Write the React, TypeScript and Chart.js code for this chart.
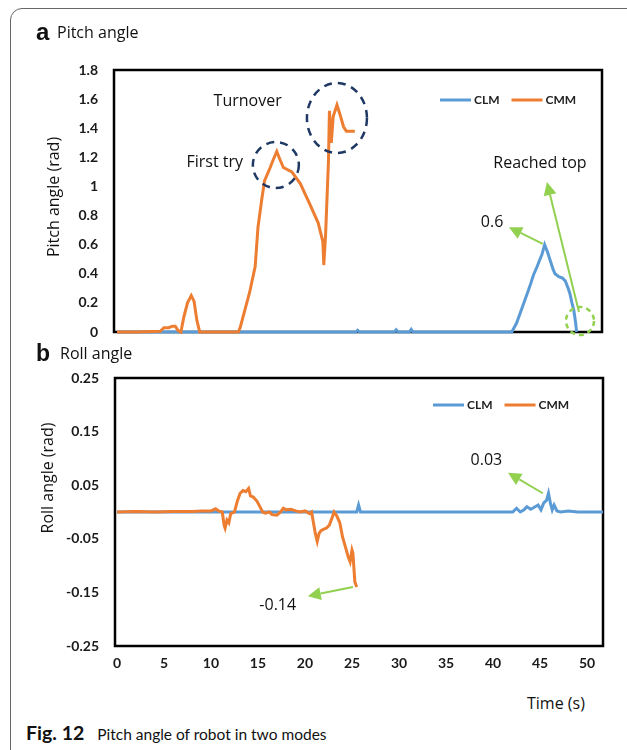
import React, { useEffect, useRef } from "react";
import { Chart, registerables } from "chart.js";

Chart.register(...registerables);

// ---------- data ----------
const SERIES_NAMES = ["CLM", "CMM"];
const X_TICKS = [0, 5, 10, 15, 20, 25, 30, 35, 40, 45, 50];
const PITCH_TICKS = [0, 0.2, 0.4, 0.6, 0.8, 1, 1.2, 1.4, 1.6, 1.8];
const ROLL_TICKS = [-0.25, -0.15, -0.05, 0.05, 0.15, 0.25];

const pitchCmmTime = [0, 2.0, 4.6, 5.0, 5.5, 5.9, 6.2, 6.5, 6.8, 7.1, 7.5, 7.9, 8.2, 8.5, 8.8, 10.5, 12.9, 13.1, 13.6, 14.1, 14.7, 15.0, 15.4, 15.7, 16.3, 16.6, 17.0, 17.3, 17.7, 18.6, 19.5, 20.5, 21.4, 21.9, 22.0, 22.2, 22.5, 22.6, 22.8, 23.0, 23.4, 23.7, 24.1, 24.4, 25.3];
const pitchCmmValue = [0, 0, 0.005, 0.03, 0.03, 0.04, 0.04, 0.01, 0, 0.1, 0.2, 0.25, 0.21, 0.08, 0, 0, 0, 0.03, 0.15, 0.27, 0.45, 0.72, 0.91, 1.04, 1.13, 1.18, 1.24, 1.19, 1.13, 1.10, 1.02, 0.88, 0.75, 0.62, 0.46, 0.68, 1.18, 1.52, 1.30, 1.48, 1.56, 1.50, 1.41, 1.38, 1.38];

const pitchClmTime = [0, 25.4, 25.6, 25.8, 29.5, 29.7, 29.9, 31.1, 31.3, 31.5, 42.0, 42.5, 42.9, 43.4, 43.9, 44.3, 44.7, 45.0, 45.2, 45.5, 45.8, 46.1, 46.4, 46.6, 47.0, 47.4, 47.7, 48.0, 48.2, 48.4, 48.6, 48.8, 48.9];
const pitchClmValue = [0, 0, 0.012, 0, 0, 0.015, 0, 0, 0.018, 0, 0, 0.06, 0.13, 0.22, 0.31, 0.39, 0.45, 0.50, 0.53, 0.60, 0.55, 0.49, 0.43, 0.40, 0.38, 0.37, 0.35, 0.30, 0.26, 0.20, 0.15, 0.06, 0];

const rollCmmTime = [0, 2, 4, 6, 8, 9, 10, 10.5, 10.8, 11.2, 11.4, 11.5, 11.7, 11.9, 12.1, 12.5, 12.8, 13.1, 13.4, 13.7, 14.0, 14.2, 14.5, 14.9, 15.2, 15.5, 15.8, 16.2, 16.5, 17.0, 17.4, 17.7, 18.0, 18.5, 19.0, 19.5, 20.0, 20.5, 20.7, 20.9, 21.1, 21.3, 21.5, 21.7, 22.0, 22.3, 22.6, 22.9, 23.1, 23.4, 23.7, 24.0, 24.3, 24.6, 24.8, 25.0, 25.1, 25.3, 25.5];
const rollCmmValue = [0, 0.001, 0, 0.001, 0.001, 0.002, 0.002, 0.006, 0.002, 0, -0.025, -0.03, -0.015, -0.02, -0.003, 0, 0.02, 0.035, 0.04, 0.038, 0.044, 0.03, 0.028, 0.02, 0.01, 0, -0.002, 0, -0.005, -0.006, 0, 0.007, 0.004, 0.005, 0.002, 0, 0.002, -0.003, 0, -0.02, -0.04, -0.055, -0.04, -0.035, -0.032, -0.03, -0.024, -0.01, 0, -0.008, -0.02, -0.047, -0.065, -0.084, -0.093, -0.071, -0.077, -0.13, -0.14];

const rollClmTime = [0, 10, 20, 25.5, 25.7, 25.9, 30, 35, 40, 42.1, 42.5, 42.9, 43.3, 43.6, 44.0, 44.3, 44.8, 45.1, 45.4, 45.7, 45.9, 46.1, 46.3, 46.5, 46.8, 47.2, 48.0, 49.0, 51.7];
const rollClmValue = [0, 0, 0, 0, 0.013, 0, 0, 0, 0, 0, 0.007, 0, 0.004, 0.01, 0.005, 0.008, 0.013, 0.004, 0.017, 0.022, 0.035, 0.017, 0.004, 0.013, 0.002, 0, 0.002, 0, 0];

// ---------- styles ----------
const BLUE = "#5B9BD5";
const ORANGE = "#ED7D31";
const NAVY = "#1F3864";
const GREEN = "#92D050";
const TEXT_FONT = "'Open Sans', sans-serif";
const TICK_FONT = "Lato";

const toPoints = (t: number[], v: number[]) => t.map((x, i) => ({ x, y: v[i] }));

const figurePlugin = {
  id: "figure",
  beforeDatasetsDraw(chart: any) {
    const { ctx, chartArea: a } = chart;
    ctx.save();
    ctx.strokeStyle = "#000";
    ctx.lineWidth = 2.5;
    ctx.strokeRect(a.left, a.top, a.right - a.left, a.bottom - a.top);
    ctx.restore();
  },
  afterDatasetsDraw(chart: any, _args: any, opts: any) {
    const { ctx, chartArea: a } = chart;
    const xs = chart.scales.x;
    const ys = chart.scales.y;
    const px = (v: number) => xs.getPixelForValue(v);
    const py = (v: number) => ys.getPixelForValue(v);
    ctx.save();
    (opts.circles || []).forEach((c: any) => {
      ctx.beginPath();
      ctx.setLineDash(c.dash);
      ctx.lineWidth = c.width;
      ctx.strokeStyle = c.color;
      ctx.ellipse(px(c.x), py(c.y), c.rx, c.ry, 0, 0, Math.PI * 2);
      ctx.stroke();
    });
    ctx.setLineDash([]);
    (opts.arrows || []).forEach((ar: any) => {
      const x1 = px(ar.from[0]), y1 = py(ar.from[1]);
      const x2 = px(ar.to[0]), y2 = py(ar.to[1]);
      const ang = Math.atan2(y2 - y1, x2 - x1);
      const hl = 13, hw = 6.5;
      const bx = x2 - hl * Math.cos(ang), by = y2 - hl * Math.sin(ang);
      ctx.strokeStyle = GREEN;
      ctx.fillStyle = GREEN;
      ctx.lineWidth = 2;
      ctx.beginPath();
      ctx.moveTo(x1, y1);
      ctx.lineTo(bx, by);
      ctx.stroke();
      ctx.beginPath();
      ctx.moveTo(x2, y2);
      ctx.lineTo(bx + hw * Math.sin(ang), by - hw * Math.cos(ang));
      ctx.lineTo(bx - hw * Math.sin(ang), by + hw * Math.cos(ang));
      ctx.closePath();
      ctx.fill();
    });
    ctx.fillStyle = "#111";
    ctx.font = "16px " + TEXT_FONT;
    ctx.textAlign = "center";
    ctx.textBaseline = "middle";
    (opts.texts || []).forEach((t: any) => {
      ctx.fillText(t.text, px(t.x), py(t.y));
    });
    // legend
    const lg = opts.legend;
    if (lg) {
      ctx.font = "bold 12px " + TICK_FONT;
      ctx.textAlign = "left";
      let x = a.right - lg.fromRight;
      const y = a.top + lg.fromTop;
      chart.data.datasets.forEach((ds: any) => {
        ctx.strokeStyle = ds.borderColor;
        ctx.lineWidth = 3;
        ctx.beginPath();
        ctx.moveTo(x, y);
        ctx.lineTo(x + 31, y);
        ctx.stroke();
        x += 34;
        ctx.fillStyle = "#222";
        ctx.fillText(ds.label, x, y + 0.5);
        x += ctx.measureText(ds.label).width + 12;
      });
    }
    ctx.restore();
  },
};

function makeChart(
  canvas: HTMLCanvasElement,
  clm: { x: number; y: number }[],
  cmm: { x: number; y: number }[],
  cfg: any
) {
  return new Chart(canvas, {
    type: "line",
    data: {
      datasets: [
        { label: SERIES_NAMES[0], data: clm, borderColor: BLUE, borderWidth: 3, pointRadius: 0, tension: 0, clip: false, order: 1 } as any,
        { label: SERIES_NAMES[1], data: cmm, borderColor: ORANGE, borderWidth: 3, pointRadius: 0, tension: 0, clip: false, order: 0 } as any,
      ],
    },
    options: {
      responsive: false,
      maintainAspectRatio: false,
      animation: false,
      devicePixelRatio: 1,
      layout: { padding: cfg.padding },
      plugins: {
        legend: { display: false },
        tooltip: { enabled: false },
        figure: cfg.figure,
      } as any,
      scales: {
        x: {
          type: "linear",
          display: cfg.showX,
          min: cfg.xMin,
          max: cfg.xMax,
          grid: { display: false, drawTicks: false },
          border: { display: false },
          afterBuildTicks: (s: any) => {
            s.ticks = X_TICKS.map((v) => ({ value: v }));
          },
          afterFit: (s: any) => {
            s.height = cfg.xHeight;
          },
          ticks: {
            padding: 9,
            maxRotation: 0,
            color: "#1a1a1a",
            font: { family: TICK_FONT, size: 14, weight: "bold" },
            callback: (v: any) => String(v),
          },
        },
        y: {
          type: "linear",
          min: cfg.yTicks[0],
          max: cfg.yTicks[cfg.yTicks.length - 1],
          grid: { display: false, drawTicks: false },
          border: { display: false },
          afterBuildTicks: (s: any) => {
            s.ticks = cfg.yTicks.map((v: number) => ({ value: v }));
          },
          afterFit: (s: any) => {
            s.width = cfg.yWidth;
          },
          ticks: {
            padding: 16,
            color: "#1a1a1a",
            font: { family: TICK_FONT, size: 14, weight: "bold" },
            callback: cfg.yFormat,
          },
        },
      },
    },
    plugins: [figurePlugin as any],
  });
}

const abs = (s: any): React.CSSProperties => ({ position: "absolute", whiteSpace: "nowrap", ...s });

export default function App() {
  const refA = useRef<HTMLCanvasElement>(null);
  const refB = useRef<HTMLCanvasElement>(null);

  useEffect(() => {
    const chartA = makeChart(refA.current!, toPoints(pitchClmTime, pitchClmValue), toPoints(pitchCmmTime, pitchCmmValue), {
      padding: { left: 0, top: 70, right: 25, bottom: 26 },
      xMin: -0.32,
      xMax: 51.6,
      xHeight: 0,
      showX: false,
      yWidth: 114,
      yTicks: PITCH_TICKS,
      yFormat: (v: any) => String(Math.round(v * 10) / 10),
      figure: {
        circles: [
          { x: 23.4, y: 1.47, rx: 30, ry: 35, color: NAVY, dash: [8, 6], width: 2.5 },
          { x: 16.9, y: 1.147, rx: 23, ry: 23, color: NAVY, dash: [8, 6], width: 2.5 },
          { x: 49.26, y: 0.076, rx: 14, ry: 14, color: GREEN, dash: [5, 4], width: 2.5 },
        ],
        arrows: [
          { from: [45.3, 0.605], to: [41.7, 0.72] },
          { from: [49.15, 0.137], to: [45.74, 1.03] },
        ],
        texts: [
          { x: 13.9, y: 1.587, text: "Turnover" },
          { x: 10.4, y: 1.168, text: "First try" },
          { x: 45.0, y: 1.16, text: "Reached top" },
          { x: 39.9, y: 0.75, text: "0.6" },
        ],
        legend: { fromRight: 162, fromTop: 30 },
      },
    });
    const chartB = makeChart(refB.current!, toPoints(rollClmTime, rollClmValue), toPoints(rollCmmTime, rollCmmValue), {
      padding: { left: 0, top: 38, right: 24, bottom: 0 },
      xMin: -0.21,
      xMax: 51.7,
      xHeight: 34,
      showX: true,
      yWidth: 115,
      yTicks: ROLL_TICKS,
      yFormat: (v: any) => Number(v).toFixed(2),
      figure: {
        circles: [],
        arrows: [
          { from: [45.3, 0.035], to: [41.6, 0.073] },
          { from: [25.1, -0.14], to: [20.3, -0.157] },
        ],
        texts: [
          { x: 39.3, y: 0.097, text: "0.03" },
          { x: 17.1, y: -0.175, text: "-0.14" },
        ],
        legend: { fromRight: 170, fromTop: 27 },
      },
    });
    return () => {
      chartA.destroy();
      chartB.destroy();
    };
  }, []);

  return (
    <div style={{ position: "absolute", left: 0, top: 0, width: 627, height: 750, overflow: "hidden", background: "#fff", fontFamily: TEXT_FONT, color: "#111" }}>
      <div style={abs({ left: 10, top: 8, width: 640, height: 760, border: "1.5px solid #666", borderRadius: 12, boxSizing: "border-box" })} />
      <canvas ref={refA} width={627} height={358} style={abs({ left: 0, top: 0, width: 627, height: 358 })} />
      <canvas ref={refB} width={627} height={340} style={abs({ left: 0, top: 340, width: 627, height: 340 })} />

      <div style={abs({ left: 36, top: 18, fontFamily: "'Liberation Sans', Arial, sans-serif", fontWeight: "bold", fontSize: 24, lineHeight: "28px" })}>a</div>
      <div style={abs({ left: 57, top: 21, fontSize: 16, lineHeight: "22px" })}>Pitch angle</div>

      <div style={abs({ left: 36, top: 339, fontFamily: "'Liberation Sans', Arial, sans-serif", fontWeight: "bold", fontSize: 23, lineHeight: "28px" })}>b</div>
      <div style={abs({ left: 60, top: 342, fontSize: 16, lineHeight: "22px" })}>Roll angle</div>

      <div style={abs({ left: 53, top: 197, fontSize: 16, lineHeight: "20px", transform: "translate(-50%, -50%) rotate(-90deg)" })}>Pitch angle (rad)</div>
      <div style={abs({ left: 47, top: 478, fontSize: 16, lineHeight: "20px", transform: "translate(-50%, -50%) rotate(-90deg)" })}>Roll angle (rad)</div>

      <div style={abs({ left: 527, top: 692, fontSize: 16, lineHeight: "22px" })}>Time (s)</div>

      <div style={abs({ left: 26, top: 722, fontFamily: "Lato, sans-serif", fontSize: 15.5, lineHeight: "22px" })}>
        <span style={{ fontWeight: "bold", fontSize: 19.5 }}>Fig. 12</span>
        <span style={{ marginLeft: 13 }}>Pitch angle of robot in two modes</span>
      </div>
    </div>
  );
}
